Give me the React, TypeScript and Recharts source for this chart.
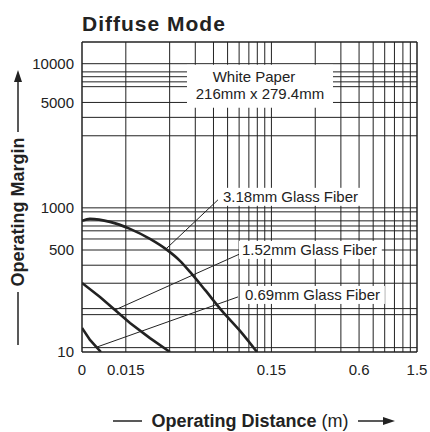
import React from 'react';
import { ComposedChart, Line, XAxis, YAxis, ReferenceLine, ReferenceDot } from 'recharts';

const FONT = '"Liberation Sans", Arial, Helvetica, sans-serif';
const INK = '#222';

// X axis (operating distance, m) – log scale
const xDomain = [0.0075, 1.5];
const xTicks = [0.0075, 0.015, 0.15, 0.6, 1.5];
const xTickLabels = ['0', '0.015', '0.15', '0.6', '1.5'];
const xGrid = [0.015, 0.03, 0.045, 0.06, 0.075, 0.09, 0.105, 0.12, 0.135, 0.15, 0.3, 0.45, 0.6, 0.75, 0.9, 1.05, 1.2, 1.35];

// Y axis (operating margin) – log scale
const yDomain = [10, 200000];
const yTicks = [10, 260, 1000, 29000, 100000];
const yTickLabels = ['10', '500', '1000', '5000', '10000'];
const yGrid = [11.5, 33, 40, 90, 160, 260, 370, 480, 560, 660, 880, 1000, 10000, 18000, 29000, 48000, 56000, 66000, 77000, 100000];

// Curves
const fiber318X = [0.0075, 0.00851, 0.01168, 0.01602, 0.02198, 0.02877, 0.03533, 0.0414, 0.05247, 0.06865, 0.0913, 0.1194];
const fiber318Y = [659, 703, 639, 511, 371, 261, 184, 129, 72.6, 37.1, 19.6, 10];
const fiber152X = [0.0075, 0.00997, 0.01264, 0.01602, 0.02198, 0.03016];
const fiber152Y = [90.8, 58.1, 38.3, 25.3, 15.6, 10];
const fiber069X = [0.0075, 0.00851, 0.01012];
const fiber069Y = [21.5, 14.7, 10];

// Leader lines: [x1, y1, x2, y2]
const leaders = [
  [0.02786, 261, 0.0644, 1291],
  [0.01264, 38.3, 0.0913, 230],
  [0.00951, 11.73, 0.0884, 58.1],
];

// Curve labels: anchor at left-middle of text
const labelTexts = ['3.18mm Glass Fiber', '1.52mm Glass Fiber', '0.69mm Glass Fiber'];
const labelX = [0.06974, 0.0942, 0.0988];
const labelY = [1422, 261, 61.9];

// Target box
const targetLines = ['White Paper', '216mm x 279.4mm'];
const targetX = 0.1252;
const targetY = 49450;

const toPoints = (xs: number[], ys: number[]) => xs.map((x, i) => ({ x, y: ys[i] }));
const fiber318 = toPoints(fiber318X, fiber318Y);
const fiber152 = toPoints(fiber152X, fiber152Y);
const fiber069 = toPoints(fiber069X, fiber069Y);

const FiberLabel = (text: string) => (p: any) => {
  const w = text.length * 7.6 + 6;
  return (
    <g>
      <rect x={p.cx - 3} y={p.cy - 9} width={w} height={18} fill="#fff" />
      <text x={p.cx} y={p.cy} dy="0.35em" fontSize={15} fontFamily={FONT} fill={INK}>{text}</text>
    </g>
  );
};

const TargetLabel = (p: any) => (
  <g>
    <rect x={p.cx - 73} y={p.cy - 21} width={146} height={43} fill="#fff" />
    <text x={p.cx - 6} y={p.cy - 9} dy="0.35em" textAnchor="middle" fontSize={15} fontFamily={FONT} fill={INK}>{targetLines[0]}</text>
    <text x={p.cx} y={p.cy + 8} dy="0.35em" textAnchor="middle" fontSize={15} fontFamily={FONT} fill={INK}>{targetLines[1]}</text>
  </g>
);

export default function App() {
  return (
    <div style={{ position: 'absolute', left: 0, top: 0, width: 430, height: 432, background: '#fff' }}>
      <ComposedChart width={430} height={432} margin={{ top: 42, right: 13, bottom: 0, left: 0 }}>
        <XAxis
          dataKey="x"
          type="number"
          scale="log"
          domain={xDomain}
          ticks={xTicks}
          interval={0}
          allowDataOverflow
          tickFormatter={(v: number) => xTickLabels[xTicks.indexOf(v)] ?? String(v)}
          axisLine={false}
          tickLine={false}
          tickMargin={6}
          height={80}
          tick={{ fill: INK, fontSize: 15, fontFamily: FONT }}
        />
        <YAxis
          type="number"
          scale="log"
          domain={yDomain}
          ticks={yTicks}
          interval={0}
          allowDataOverflow
          tickFormatter={(v: number) => yTickLabels[yTicks.indexOf(v)] ?? String(v)}
          axisLine={false}
          tickLine={false}
          width={82}
          tick={{ fill: INK, fontSize: 15, fontFamily: FONT }}
        />
        {xGrid.map((v) => (
          <ReferenceLine key={'vx' + v} x={v} stroke={INK} strokeWidth={1} />
        ))}
        {yGrid.map((v) => (
          <ReferenceLine key={'hy' + v} y={v} stroke={INK} strokeWidth={1} />
        ))}
        <ReferenceLine x={xDomain[0]} stroke={INK} strokeWidth={1.5} />
        <ReferenceLine x={xDomain[1]} stroke={INK} strokeWidth={1.5} />
        <ReferenceLine y={yDomain[0]} stroke={INK} strokeWidth={1.5} />
        <ReferenceLine y={yDomain[1]} stroke={INK} strokeWidth={1.5} />
        <ReferenceDot x={targetX} y={targetY} r={0} shape={TargetLabel} />
        {labelTexts.map((t, i) => (
          <ReferenceDot key={t} x={labelX[i]} y={labelY[i]} r={0} shape={FiberLabel(t)} />
        ))}
        {leaders.map((s, i) => (
          <ReferenceLine
            key={'ld' + i}
            segment={[{ x: s[0], y: s[1] }, { x: s[2], y: s[3] }]}
            stroke={INK}
            strokeWidth={1}
          />
        ))}
        <Line data={fiber318} dataKey="y" type="monotone" stroke={INK} strokeWidth={2.6} dot={false} isAnimationActive={false} />
        <Line data={fiber152} dataKey="y" type="linear" stroke={INK} strokeWidth={2.6} dot={false} isAnimationActive={false} />
        <Line data={fiber069} dataKey="y" type="linear" stroke={INK} strokeWidth={2.6} dot={false} isAnimationActive={false} />
      </ComposedChart>
      <svg width={430} height={432} style={{ position: 'absolute', left: 0, top: 0, pointerEvents: 'none' }} fontFamily={FONT}>
        <text x={82} y={31} fontSize={21} fontWeight="bold" letterSpacing={1} fill={INK}>Diffuse Mode</text>
        <g fill={INK} stroke={INK}>
          <line x1={18} y1={345} x2={18} y2={292} strokeWidth={1.5} />
          <line x1={18} y1={132} x2={18} y2={80} strokeWidth={1.5} />
          <polygon points="18,70 14,82 22,82" stroke="none" />
        </g>
        <text transform="translate(24,212) rotate(-90)" textAnchor="middle" fontSize={18} fontWeight="bold" fill={INK}>Operating Margin</text>
        <g fill={INK} stroke={INK}>
          <line x1={113} y1={421} x2={142} y2={421} strokeWidth={1.5} />
          <line x1={358} y1={421} x2={384} y2={421} strokeWidth={1.5} />
          <polygon points="395,421 383,417 383,425" stroke="none" />
        </g>
        <text x={250} y={427} textAnchor="middle" fontSize={18} fill={INK}>
          <tspan fontWeight="bold">Operating Distance</tspan>
          <tspan> (m)</tspan>
        </text>
      </svg>
    </div>
  );
}
